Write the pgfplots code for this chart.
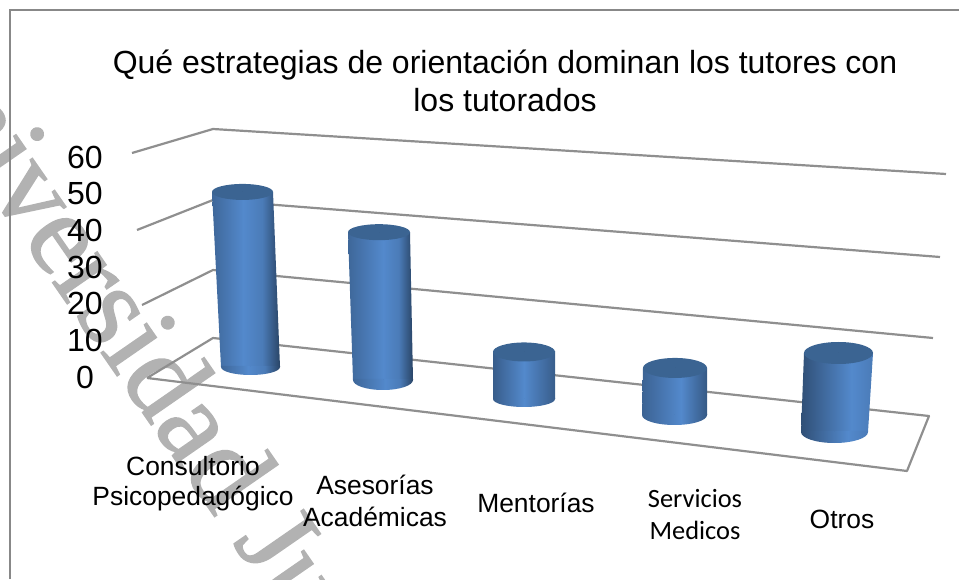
\documentclass[border=0pt]{standalone}
\usepackage{fontspec}
\setmainfont{Liberation Sans}
\newfontfamily\carlitofont{Carlito}
\newfontfamily\wmfont[FakeBold=1.2]{Liberation Serif}
\usepackage{pgfplots}
\usepackage{pgfplotstable}
\pgfplotsset{compat=1.18}
\definecolor{gridg}{HTML}{8F8F8F}
\definecolor{frameg}{HTML}{888888}
\definecolor{captop}{HTML}{3B6492}
\definecolor{midb}{HTML}{5389CC}
\definecolor{wmgrey}{HTML}{B2B2B2}
\pgfdeclarehorizontalshading{cyl0}{100bp}{color(0bp)=(midb!70!black);color(25bp)=(midb!75!black);color(48bp)=(midb);color(62bp)=(midb!90!black);color(75bp)=(midb!50!black);color(100bp)=(midb!50!black)}
\pgfdeclarehorizontalshading{cyl1}{100bp}{color(0bp)=(midb!75!black);color(25bp)=(midb!75!black);color(52bp)=(midb);color(64bp)=(midb!90!black);color(75bp)=(midb!50!black);color(100bp)=(midb!50!black)}
\pgfdeclarehorizontalshading{cyl2}{100bp}{color(0bp)=(midb!68!black);color(25bp)=(midb!68!black);color(50bp)=(midb);color(75bp)=(midb!68!black);color(100bp)=(midb!68!black)}
\pgfdeclarehorizontalshading{cyl3}{100bp}{color(0bp)=(midb!72!black);color(25bp)=(midb!72!black);color(55bp)=(midb);color(75bp)=(midb!65!black);color(100bp)=(midb!65!black)}
\pgfdeclarehorizontalshading{cyl4}{100bp}{color(0bp)=(midb!58!black);color(25bp)=(midb!58!black);color(60bp)=(midb);color(75bp)=(midb!90!black);color(100bp)=(midb!90!black)}
% chart values and the position of each cylinder in the drawing
\pgfplotstableread{
id value cxt cxb rt rb base unit ryt ryb
0  45    242.5 250.5 30.5 29.5 212 3.89 8 8
1  38    379   383   31   30   199 3.89 8 10
2  12    524   524   31   31   180 3.92 9.5 8
3  12    675   674.5 32   32.5 164 3.92 10 10
4  20    838.5 834.5 34.5 33.5 147 3.95 11 11
}\bars
\pgfplotstableread{
sx f
-1 0
1 0
1 1
-1 1
}\corners
\newcommand\ttl{\fontsize{32}{37}\selectfont}
\newcommand\tick{\fontsize{32}{37}\selectfont}
\newcommand\lab{\fontsize{26.4}{31}\selectfont}
\begin{document}
\begin{tikzpicture}
\useasboundingbox (0,0) rectangle (959pt,579pt);
% watermark, under everything else
\begin{scope}
\clip (0,0) rectangle (959pt,579pt);
\node[anchor=base west,inner sep=0pt,rotate=-55.3,text=wmgrey,font=\wmfont\fontsize{118}{120}\selectfont] at (-113pt,535.5pt) {Universidad Juárez};
\end{scope}
\begin{axis}[at={(0,0)},anchor=south west,x=1pt,y=1pt,xmin=0,xmax=959,ymin=0,ymax=579,
  axis lines=none,clip=false,point meta=0,point meta min=0,point meta max=1]
% frame
\addplot[frameg,line width=2.3pt,line join=miter] coordinates {(10,0)(10,569)(959,569)};
% walls and floor
\addplot[gridg,line width=2.2pt,line join=round] coordinates {(132,426)(213,450)(946,405)};
\addplot[gridg,line width=2.2pt] coordinates {(137,349)(213,379)(940,322)};
\addplot[gridg,line width=2.2pt] coordinates {(142,274)(213,309)(933,241)};
\addplot[gridg,line width=2.2pt,line join=round] coordinates {(147,201)(213,241)(929,163)(907,108)(147,201)};
% cylinders
\pgfplotsinvokeforeach{0,...,4}{
  \pgfplotstablegetelem{#1}{value}\of\bars \let\Bv\pgfplotsretval
  \pgfplotstablegetelem{#1}{cxt}\of\bars \let\Bcxt\pgfplotsretval
  \pgfplotstablegetelem{#1}{cxb}\of\bars \let\Bcxb\pgfplotsretval
  \pgfplotstablegetelem{#1}{rt}\of\bars \let\Brt\pgfplotsretval
  \pgfplotstablegetelem{#1}{rb}\of\bars \let\Brb\pgfplotsretval
  \pgfplotstablegetelem{#1}{base}\of\bars \let\Bbase\pgfplotsretval
  \pgfplotstablegetelem{#1}{unit}\of\bars \let\Bunit\pgfplotsretval
  \pgfplotstablegetelem{#1}{ryt}\of\bars \let\Bryt\pgfplotsretval
  \pgfplotstablegetelem{#1}{ryb}\of\bars \let\Bryb\pgfplotsretval
  % body
  \addplot[draw=none,shading=cyl#1] table[
    x expr={\thisrow{sx}*(\Brb*(1-\thisrow{f})+\Brt*\thisrow{f})+\Bcxb*(1-\thisrow{f})+\Bcxt*\thisrow{f}},
    y expr={\Bbase+\thisrow{f}*\Bv*\Bunit}]{\corners};
  % bottom end: the lower half of an ellipse
  \addplot[scatter,only marks,mark=*,mark size=0pt,
    visualization depends on=value \Brb \as \myrx,
    visualization depends on=value \Bryb \as \myry,
    scatter/@pre marker code/.code={\path[draw=none,shading=cyl#1] (-\myrx pt,1pt) -- (-\myrx pt,0pt) arc[start angle=180,end angle=360,x radius=\myrx pt,y radius=\myry pt] -- (\myrx pt,1pt) -- cycle;\begingroup},
    scatter/@post marker code/.code={\endgroup}]
    table[x expr=\Bcxb,y expr=\Bbase,row sep=\\]{a\\0\\};
  % top end
  \addplot[scatter,only marks,mark=*,mark size=0pt,
    visualization depends on=value \Brt \as \myrx,
    visualization depends on=value \Bryt \as \myry,
    scatter/@pre marker code/.code={\path[draw=none,fill=captop] (0,0) ellipse [x radius=\myrx pt,y radius=\myry pt];\begingroup},
    scatter/@post marker code/.code={\endgroup}]
    table[x expr=\Bcxt,y expr={\Bbase+\Bv*\Bunit},row sep=\\]{a\\0\\};
}
% title
\node[anchor=base,inner sep=0pt,font=\ttl] at (axis cs:505,505) {Qué estrategias de orientación dominan los tutores con};
\node[anchor=base,inner sep=0pt,font=\ttl] at (axis cs:505,467) {los tutorados};
% value labels
\node[anchor=east,inner sep=0pt,font=\tick] at (axis cs:103,422) {60};
\node[anchor=east,inner sep=0pt,font=\tick] at (axis cs:103,386) {50};
\node[anchor=east,inner sep=0pt,font=\tick] at (axis cs:103,349) {40};
\node[anchor=east,inner sep=0pt,font=\tick] at (axis cs:103,312) {30};
\node[anchor=east,inner sep=0pt,font=\tick] at (axis cs:103,276) {20};
\node[anchor=east,inner sep=0pt,font=\tick] at (axis cs:103,239) {10};
\node[anchor=east,inner sep=0pt,font=\tick] at (axis cs:94,202) {0};
% categories
\node[anchor=base,inner sep=0pt,font=\lab] at (axis cs:193,104) {Consultorio};
\node[anchor=base,inner sep=0pt,font=\lab] at (axis cs:193,74) {Psicopedagógico};
\node[anchor=base,inner sep=0pt,font=\lab] at (axis cs:375,85) {Asesorías};
\node[anchor=base,inner sep=0pt,font=\lab] at (axis cs:375,53) {Académicas};
\node[anchor=base,inner sep=0pt,font=\lab] at (axis cs:536,67) {Mentorías};
\node[anchor=base,inner sep=0pt,font=\lab\carlitofont] at (axis cs:695,72) {Servicios};
\node[anchor=base,inner sep=0pt,font=\lab\carlitofont] at (axis cs:695,40) {Medicos};
\node[anchor=base,inner sep=0pt,font=\lab] at (axis cs:842,51) {Otros};
\end{axis}
\end{tikzpicture}
\end{document}
